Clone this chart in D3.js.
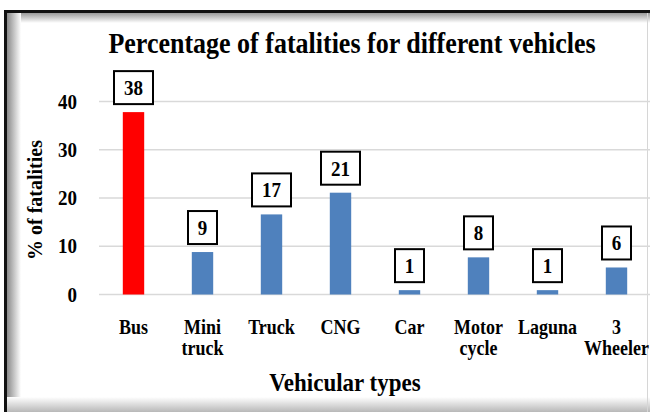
<!DOCTYPE html>
<html lang="en">
<head>
<meta charset="UTF-8">
<script src="https://cdnjs.cloudflare.com/ajax/libs/d3/7.8.5/d3.min.js"></script>
<title>Percentage of fatalities for different vehicles</title>
<style>
  body { margin: 0; background: #fff; }
  text { font-family: "Liberation Serif", "Times New Roman", serif; font-weight: bold; fill: #000; }
</style>
</head>
<body>
<script>

    // data
    let vehicles = [["Bus"], ["Mini", "truck"], ["Truck"], ["CNG"], ["Car"], ["Motor", "cycle"], ["Laguna"], ["3", "Wheeler"]];
    let fatalities = [37.8, 8.8, 16.6, 21.1, 0.9, 7.7, 0.9, 5.6];
    let barColors = ["#ff0000", "#4f81bd", "#4f81bd", "#4f81bd", "#4f81bd", "#4f81bd", "#4f81bd", "#4f81bd"];
    let yTicks = [0, 10, 20, 30, 40];

    let W = 650, H = 412;
    let plot = {left: 99, right: 651, top: 101.5, bottom: 294.5};
    let sy = 1.12; // the source picture is a bit stretched vertically

    let svg = d3.select("body").append("svg")
        .attr("width", W)
        .attr("height", H);

    // frame with soft inner shadow
    let defs = svg.append("defs");
    function grad(id, x2, y2, from, to) {
        let g = defs.append("linearGradient").attr("id", id)
            .attr("x1", 0).attr("y1", 0).attr("x2", x2).attr("y2", y2);
        g.append("stop").attr("offset", "0%").attr("stop-color", from);
        g.append("stop").attr("offset", "100%").attr("stop-color", to);
    }
    grad("gTop", 0, 1, "#9a9a9a", "#ffffff");
    grad("gLeft", 1, 0, "#8a8a8a", "#ffffff");
    grad("gBottom", 0, 1, "#ffffff", "#b8b8b8");

    svg.append("rect").attr("x", 0).attr("y", 0).attr("width", W).attr("height", H).attr("fill", "#fff");
    svg.append("rect").attr("x", 7).attr("y", 13).attr("width", W - 7).attr("height", 10).attr("fill", "url(#gTop)");
    svg.append("rect").attr("x", 7).attr("y", 13).attr("width", 14).attr("height", H - 13).attr("fill", "url(#gLeft)");
    svg.append("rect").attr("x", 7).attr("y", 397).attr("width", W - 7).attr("height", 15).attr("fill", "url(#gBottom)");
    svg.append("rect").attr("x", 4).attr("y", 10).attr("width", W - 4).attr("height", 3).attr("fill", "#111");
    svg.append("rect").attr("x", 4).attr("y", 10).attr("width", 3).attr("height", H - 10).attr("fill", "#111");
    svg.append("line").attr("x1", 647.5).attr("x2", 647.5).attr("y1", 13).attr("y2", H)
        .attr("stroke", "#d6d6d6").attr("stroke-width", 1);

    let x = d3.scaleBand()
        .domain(d3.range(vehicles.length))
        .range([plot.left, plot.right])
        .paddingInner(0.69)
        .paddingOuter(0.345);

    let y = d3.scaleLinear()
        .domain([0, 40])
        .range([plot.bottom, plot.top]);

    // places a text at (px, py) with the slight vertical stretch
    function at(px, py) {
        return "translate(" + px + "," + py + ") scale(1," + sy + ")";
    }

    // gridlines
    svg.append("g").selectAll("line")
        .data(yTicks)
        .enter().append("line")
        .attr("x1", plot.left)
        .attr("x2", W)
        .attr("y1", d => y(d))
        .attr("y2", d => y(d))
        .attr("stroke", "#d9d9d9")
        .attr("stroke-width", 1.5);

    // y tick labels
    svg.append("g").selectAll("text")
        .data(yTicks)
        .enter().append("text")
        .attr("transform", d => at(77, y(d) + 7))
        .style("text-anchor", "end")
        .style("font-size", "19px")
        .text(d => d);

    // bars
    svg.append("g").selectAll("rect")
        .data(fatalities)
        .enter().append("rect")
        .attr("x", (d, i) => x(i))
        .attr("width", x.bandwidth())
        .attr("y", d => y(d))
        .attr("height", d => y(0) - y(d))
        .attr("fill", (d, i) => barColors[i]);

    // boxed value labels
    let fmt = d3.format(".0f");
    let lab = svg.append("g").selectAll("g")
        .data(fatalities)
        .enter().append("g")
        .attr("transform", (d, i) => "translate(" + (x(i) + x.bandwidth() / 2) + "," + (y(d) - 8) + ")");
    lab.append("rect")
        .attr("x", d => -(fmt(d).length * 10 + 19) / 2)
        .attr("y", -33)
        .attr("width", d => fmt(d).length * 10 + 19)
        .attr("height", 33)
        .attr("fill", "#fff")
        .attr("stroke", "#000")
        .attr("stroke-width", 2);
    lab.append("text")
        .attr("transform", at(0, -9))
        .style("text-anchor", "middle")
        .style("font-size", "19px")
        .text(d => fmt(d));

    // category labels
    let cat = svg.append("g").selectAll("g")
        .data(vehicles)
        .enter().append("g")
        .attr("transform", (d, i) => at(x(i) + x.bandwidth() / 2, 334));
    cat.selectAll("text")
        .data(d => d)
        .enter().append("text")
        .attr("y", (d, i) => i * 19)
        .style("text-anchor", "middle")
        .style("font-size", "18px")
        .text(d => d);

    // titles
    svg.append("text")
        .attr("transform", at(352, 53))
        .style("text-anchor", "middle")
        .style("font-size", "26px")
        .text("Percentage of fatalities for different vehicles");

    svg.append("text")
        .attr("transform", at(345, 391))
        .style("text-anchor", "middle")
        .style("font-size", "23px")
        .text("Vehicular types");

    svg.append("text")
        .attr("transform", "rotate(-90)")
        .attr("x", -200)
        .attr("y", 42)
        .style("text-anchor", "middle")
        .style("font-size", "20px")
        .text("% of fatalities");

</script>
</body>
</html>
